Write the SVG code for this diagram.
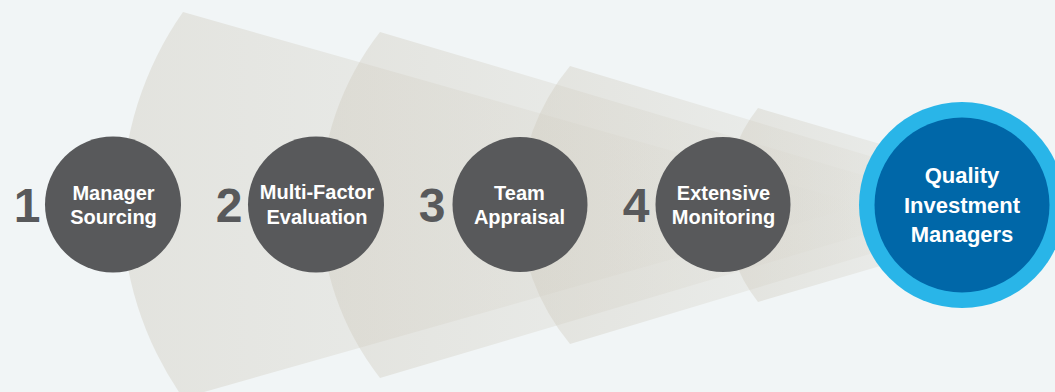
<svg xmlns="http://www.w3.org/2000/svg" width="1055" height="392" viewBox="0 0 1055 392">
  <defs>
    <linearGradient id="fade" x1="0" y1="0" x2="1" y2="0">
      <stop offset="0" stop-color="#cfcabd" stop-opacity="0.42"/>
      <stop offset="0.6" stop-color="#cfcabd" stop-opacity="0.18"/>
      <stop offset="1" stop-color="#cfcabd" stop-opacity="0"/>
    </linearGradient>
  </defs>
  <style>
    .wedge { fill: url(#fade); }
    .step { fill: #58595b; }
    .num { font-family: "Liberation Sans", Arial, sans-serif; font-weight: bold; font-size: 48px; fill: #58595b; text-anchor: middle; }
    .lbl { font-family: "Liberation Sans", Arial, sans-serif; font-weight: bold; font-size: 20px; fill: #ffffff; text-anchor: middle; }
    .goal { font-family: "Liberation Sans", Arial, sans-serif; font-weight: bold; font-size: 22px; fill: #ffffff; text-anchor: middle; }
  </style>
  <rect width="1055" height="392" fill="#f1f5f6"/>
  <g id="connectors">
    <path class="wedge" d="M183,12 L863,205 L183,398 A336,336 0 0,1 183,12 Z"/>
    <path class="wedge" d="M380,32 L963,205 L380,378 A281,281 0 0,1 380,32 Z"/>
    <path class="wedge" d="M570,66 L1033,205 L570,344 A217,217 0 0,1 570,66 Z"/>
    <path class="wedge" d="M758,108 L1088,205 L758,302 A157,157 0 0,1 758,108 Z"/>
  </g>
  <g id="step1">
    <text class="num" x="27" y="222">1</text>
    <circle class="step" cx="113" cy="204.5" r="68"/>
    <text class="lbl" x="113.5" y="200">Manager</text>
    <text class="lbl" x="113.5" y="224">Sourcing</text>
  </g>
  <g id="step2">
    <text class="num" x="229" y="222">2</text>
    <circle class="step" cx="316" cy="204.5" r="68"/>
    <text class="lbl" x="317" y="199">Multi-Factor</text>
    <text class="lbl" x="317" y="224">Evaluation</text>
  </g>
  <g id="step3">
    <text class="num" x="432" y="222">3</text>
    <circle class="step" cx="520" cy="204.5" r="67.5"/>
    <text class="lbl" x="519.5" y="200">Team</text>
    <text class="lbl" x="519.5" y="224">Appraisal</text>
  </g>
  <g id="step4">
    <text class="num" x="636" y="222">4</text>
    <circle class="step" cx="723" cy="204.5" r="67.5"/>
    <text class="lbl" x="723.5" y="200">Extensive</text>
    <text class="lbl" x="723.5" y="224">Monitoring</text>
  </g>
  <g id="goal">
    <circle cx="962" cy="205" r="103" fill="#29b5e8"/>
    <circle cx="962" cy="205" r="87.5" fill="#0067a8"/>
    <text class="goal" x="962" y="183">Quality</text>
    <text class="goal" x="962" y="213">Investment</text>
    <text class="goal" x="962" y="242">Managers</text>
  </g>
</svg>
